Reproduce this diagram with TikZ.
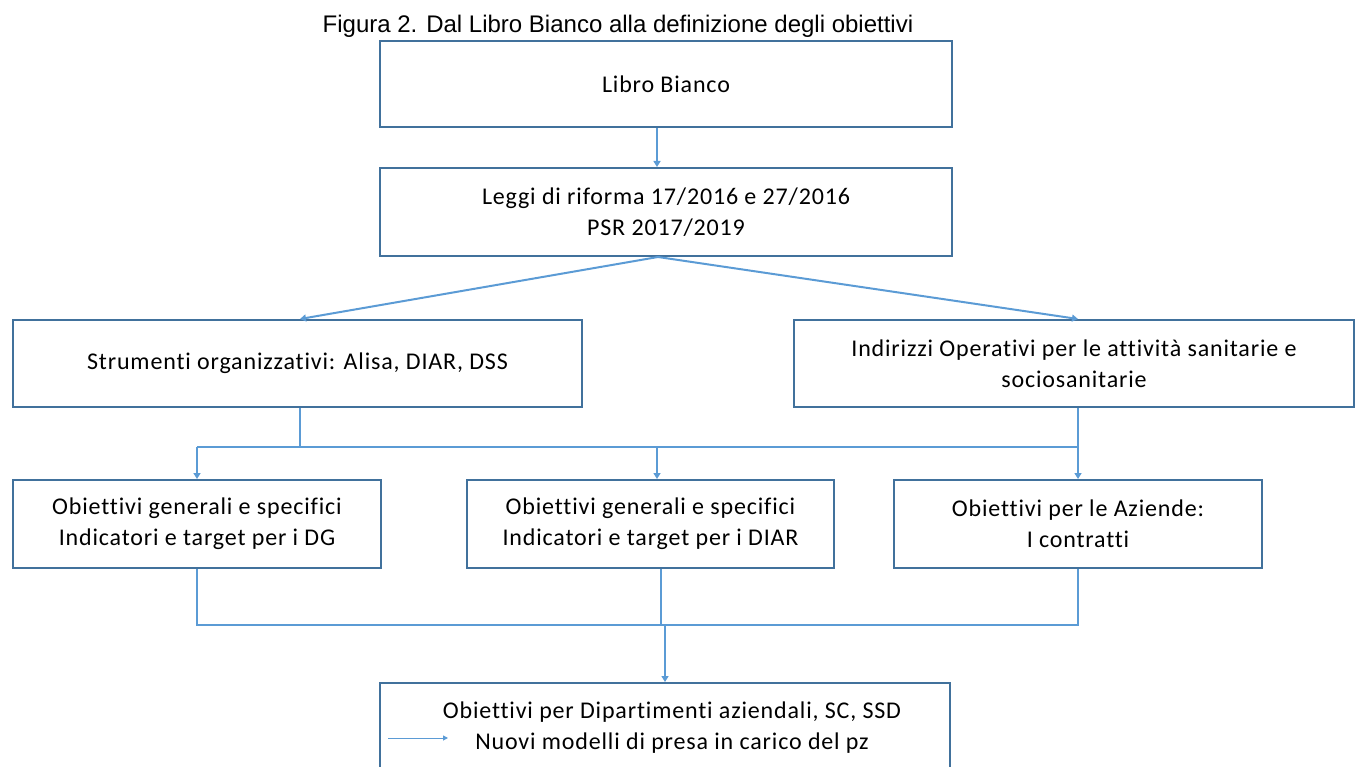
\documentclass[tikz,border=0pt]{standalone}
\usepackage{fontspec}
\setmainfont{Carlito}[LetterSpace=3.5,Ligatures=NoCommon]
\newfontfamily\arialf{Liberation Sans}
\usetikzlibrary{arrows.meta}
\definecolor{bord}{HTML}{41719C}
\definecolor{conn}{HTML}{5B9BD5}
\tikzset{
  boxfont/.style={font=\fontsize{24}{31}\selectfont},
  box/.style={draw=bord, line width=2pt, fill=white, align=center, inner sep=0pt, boxfont},
  conn/.style={draw=conn, line width=2pt},
  arr/.style={conn, -{Triangle[width=7pt,length=6pt]}},
}
\begin{document}
\begin{tikzpicture}[x=1pt,y=-1pt]
\useasboundingbox (0,0) rectangle (1356,767);
\node[font=\arialf\fontsize{24}{27}\selectfont] (title) at (618,26) {Figura 2. Dal Libro Bianco alla definizione degli obiettivi};
\node[box, minimum width=572pt, minimum height=86pt] (b1) at (666,84) {Libro Bianco};
\node[box, minimum width=572pt, minimum height=88pt] (b2) at (666,212) {Leggi di riforma 17/2016 e 27/2016\\PSR 2017/2019};
\node[box, minimum width=569pt, minimum height=87pt] (b3) at (297.5,363.5) {Strumenti organizzativi: Alisa, DIAR, DSS};
\node[box, minimum width=560pt, minimum height=87pt] (b4) at (1074,363.5) {Indirizzi Operativi per le attività sanitarie e\\sociosanitarie};
\node[box, minimum width=368pt, minimum height=88pt] (b5) at (197,524) {Obiettivi generali e specifici\\Indicatori e target per i DG};
\node[box, minimum width=367pt, minimum height=88pt] (b6) at (650.5,524) {Obiettivi generali e specifici\\Indicatori e target per i DIAR};
\node[box, minimum width=368pt, minimum height=88pt] (b7) at (1078,524) {Obiettivi per le Aziende:\\I contratti};
\node[box, minimum width=570pt, minimum height=100pt] (b8) at (665,733) {};
\node[boxfont, align=center, inner sep=0pt] (t8) at (672,728) {Obiettivi per Dipartimenti aziendali, SC, SSD\\Nuovi modelli di presa in carico del pz};
% coordinates
\coordinate (c1) at (657,0);
\coordinate (top2) at (658,257);
\coordinate (f3) at (300,0);
\coordinate (f4) at (1078,0);
\coordinate (h1) at (0,447);
\coordinate (x197) at (197,0);
\coordinate (x657) at (657,0);
\coordinate (x661) at (661,0);
\coordinate (h2) at (0,625);
\coordinate (x665) at (665,0);
\coordinate (sa) at (388,738);
\coordinate (sb) at (448,738);
% connectors
\draw[arr] (b1.south -| c1) -- (b2.north -| c1);
\draw[arr] (top2) -- (b3.north -| f3);
\draw[arr] (top2) -- (b4.north -| f4);
\draw[conn] (b3.south -| f3) -- (h1 -| f3);
\draw[conn] (b4.south -| f4) -- (h1 -| f4);
\draw[conn] (h1 -| x197) -- (h1 -| f4);
\draw[arr] (h1 -| x197) -- (b5.north -| x197);
\draw[arr] (h1 -| x657) -- (b6.north -| x657);
\draw[arr] (h1 -| f4) -- (b7.north -| f4);
\draw[conn] (b5.south -| x197) -- (h2 -| x197) -- (h2 -| f4) -- (b7.south -| f4);
\draw[conn] (b6.south -| x661) -- (h2 -| x661);
\draw[arr] (h2 -| x665) -- (b8.north -| x665);
\draw[draw=conn, line width=1pt, -{Triangle[width=5pt,length=5pt]}] (sa) -- (sb);
\end{tikzpicture}
\end{document}
